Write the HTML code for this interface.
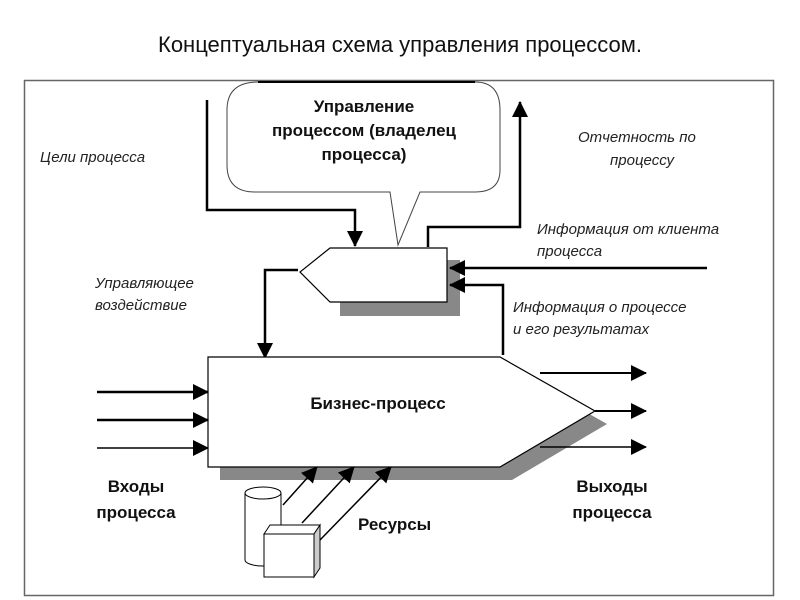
<!DOCTYPE html>
<html><head><meta charset="utf-8"><style>
html,body{margin:0;padding:0;background:#fff;}
svg{display:block;}
text{font-family:"Liberation Sans","DejaVu Sans",sans-serif;}
.i{font-style:italic;font-size:15px;fill:#222;}
.b{font-weight:bold;font-size:17px;fill:#111;}
</style></head><body>
<svg width="800" height="600" viewBox="0 0 800 600" xmlns="http://www.w3.org/2000/svg">
<defs>
<marker id="a" markerWidth="8" markerHeight="8" refX="7" refY="4" orient="auto" markerUnits="userSpaceOnUse" viewBox="0 0 8 8"><path d="M0,0 L8,4 L0,8z" fill="#000"/></marker>
<marker id="A" markerWidth="16" markerHeight="16" refX="15" refY="8" orient="auto" markerUnits="userSpaceOnUse" viewBox="0 0 16 16"><path d="M0,0 L16,8 L0,16z" fill="#000"/></marker>
</defs>
<text x="400" y="52" text-anchor="middle" font-size="22" fill="#111">Концептуальная схема управления процессом.</text>
<rect x="24.5" y="80.5" width="749" height="515" fill="#fff" stroke="#666" stroke-width="1.5"/>
<!-- cloud -->
<path d="M258,82 L475,82 Q500,82 500,110 L500,170 Q500,192 475,192 L420,192 L398,245 L390,192 L255,192 Q227,192 227,165 L227,110 Q227,82 258,82Z" fill="#fff" stroke="#444" stroke-width="1"/>
<line x1="258" y1="82" x2="475" y2="82" stroke="#000" stroke-width="2"/>
<text class="b" text-anchor="middle" x="364" y="112">Управление</text>
<text class="b" text-anchor="middle" x="364" y="136">процессом (владелец</text>
<text class="b" text-anchor="middle" x="364" y="160">процесса)</text>
<!-- control box -->
<rect x="340" y="260" width="120" height="56" fill="#888"/>
<path d="M330,248 L447,248 L447,302 L330,302 L300,272Z" fill="#fff" stroke="#000" stroke-width="1.2"/>
<!-- goals line -->
<polyline points="207,100 207,210 355,210 355,246" fill="none" stroke="#000" stroke-width="2.5" marker-end="url(#A)"/>
<!-- report up -->
<polyline points="428,247 428,227 520,227 520,102" fill="none" stroke="#000" stroke-width="2.5" marker-end="url(#A)"/>
<!-- info from client -->
<line x1="707" y1="268" x2="450" y2="268" stroke="#000" stroke-width="2.5" marker-end="url(#A)"/>
<polyline points="503,355 503,285 450,285" fill="none" stroke="#000" stroke-width="2.5" marker-end="url(#A)"/>
<!-- control action -->
<polyline points="298,270 265,270 265,358" fill="none" stroke="#000" stroke-width="2.5" marker-end="url(#A)"/>
<!-- big box -->
<path d="M220,370 L512,370 L607,424 L512,480 L220,480Z" fill="#888"/>
<path d="M208,357 L500,357 L595,411 L500,467 L208,467Z" fill="#fff" stroke="#000" stroke-width="1.2"/>
<text class="b" x="378" y="409" text-anchor="middle">Бизнес-процесс</text>
<!-- inputs -->
<line x1="97" y1="392" x2="208" y2="392" stroke="#000" stroke-width="2.5" marker-end="url(#A)"/>
<line x1="97" y1="420" x2="208" y2="420" stroke="#000" stroke-width="2.5" marker-end="url(#A)"/>
<line x1="97" y1="448" x2="208" y2="448" stroke="#000" stroke-width="1.5" marker-end="url(#A)"/>
<!-- outputs -->
<line x1="540" y1="373" x2="646" y2="373" stroke="#000" stroke-width="2" marker-end="url(#A)"/>
<line x1="595" y1="411" x2="646" y2="411" stroke="#000" stroke-width="2" marker-end="url(#A)"/>
<line x1="540" y1="447" x2="646" y2="447" stroke="#000" stroke-width="1.5" marker-end="url(#A)"/>
<!-- resources -->
<path d="M245,493 L245,560 A18,6 0 0 0 281,560 L281,493" fill="#fff" stroke="#000"/>
<ellipse cx="263" cy="493" rx="18" ry="6" fill="#fff" stroke="#000"/>
<line x1="283" y1="505" x2="317" y2="467" stroke="#000" stroke-width="1.5" marker-end="url(#A)"/>
<line x1="302" y1="523" x2="354" y2="467" stroke="#000" stroke-width="1.5" marker-end="url(#A)"/>
<line x1="320" y1="540" x2="391" y2="467" stroke="#000" stroke-width="1.5" marker-end="url(#A)"/>
<path d="M264,534 L270,525 L320,525 L314,534Z" fill="#fff" stroke="#000"/>
<path d="M314,534 L320,525 L320,568 L314,577Z" fill="#ccc" stroke="#000"/>
<rect x="264" y="534" width="50" height="43" fill="#fff" stroke="#000"/>
<!-- labels -->
<text class="i" x="40" y="162">Цели процесса</text>
<text class="i" x="578" y="142">Отчетность по</text>
<text class="i" x="610" y="165">процессу</text>
<text class="i" x="537" y="234">Информация от клиента</text>
<text class="i" x="537" y="256">процесса</text>
<text class="i" x="95" y="288">Управляющее</text>
<text class="i" x="95" y="310">воздействие</text>
<text class="i" x="513" y="312">Информация о процессе</text>
<text class="i" x="513" y="334">и его результатах</text>
<text class="b" x="136" y="492" text-anchor="middle">Входы</text>
<text class="b" x="136" y="518" text-anchor="middle">процесса</text>
<text class="b" x="612" y="492" text-anchor="middle">Выходы</text>
<text class="b" x="612" y="518" text-anchor="middle">процесса</text>
<text class="b" x="358" y="530">Ресурсы</text>
</svg>
</body></html>
